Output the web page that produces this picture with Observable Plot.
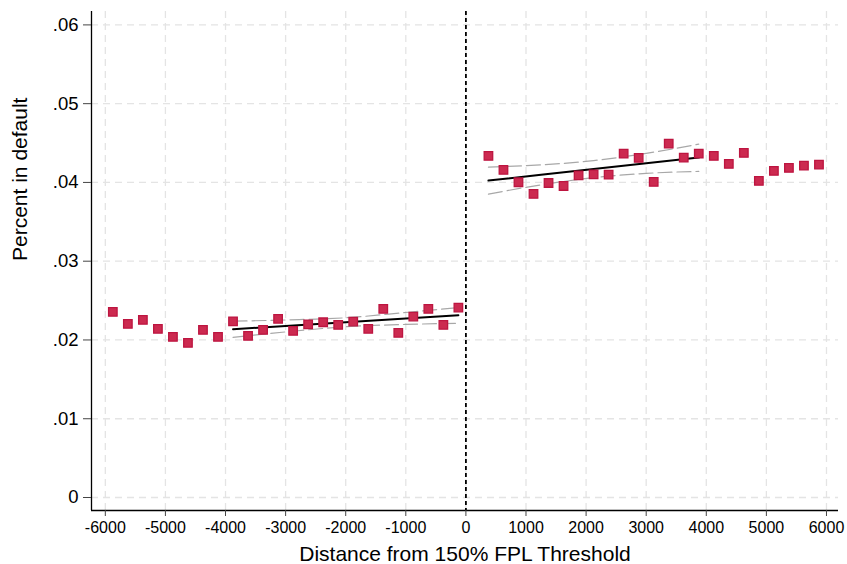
<!DOCTYPE html>
<html>
<head>
<meta charset="utf-8">
<script src="https://cdn.jsdelivr.net/npm/d3@7"></script>
<script src="https://cdn.jsdelivr.net/npm/@observablehq/plot@0.6"></script>
<style>
  body { margin: 0; background: #fff; }
  #chart { width: 847px; height: 564px; }
  svg { font-family: "Liberation Sans", Arial, sans-serif; }
</style>
</head>
<body>
<div id="chart"></div>
<script>
// Bin centers and binned default rates
const leftX = [-5875,-5625,-5375,-5125,-4875,-4625,-4375,-4125,-3875,-3625,-3375,-3125,-2875,-2625,-2375,-2125,-1875,-1625,-1375,-1125,-875,-625,-375,-125];
const leftY = [0.02357,0.02204,0.02255,0.02141,0.02039,0.01963,0.02128,0.02039,0.02237,0.02052,0.02128,0.02268,0.02115,0.02199,0.02225,0.02191,0.02234,0.02141,0.02395,0.02090,0.02297,0.02395,0.02191,0.02411];
const rightX = [375,625,875,1125,1375,1625,1875,2125,2375,2625,2875,3125,3375,3625,3875,4125,4375,4625,4875,5125,5375,5625,5875];
const rightY = [0.04336,0.04159,0.04002,0.03854,0.03993,0.03955,0.04090,0.04103,0.04099,0.04365,0.04311,0.04006,0.04492,0.04315,0.04365,0.04336,0.04235,0.04374,0.04019,0.04146,0.04184,0.04213,0.04226];

// Linear fits with confidence bands
const leftFitX = [-3875,-3000,-2000,-1000,-125];
const leftFit  = [0.02136,0.02178,0.02225,0.02273,0.02314];
const leftHi   = [0.02238,0.02254,0.02282,0.02349,0.02412];
const leftLo   = [0.02034,0.02102,0.02168,0.02197,0.02212];
const rightFitX = [375,1250,2125,3000,3875];
const rightFit  = [0.04023,0.04096,0.04169,0.04242,0.04315];
const rightHi   = [0.04194,0.04223,0.04277,0.04369,0.04486];
const rightLo   = [0.03852,0.03969,0.04061,0.04115,0.04140];

const xTicks = [-6000,-5000,-4000,-3000,-2000,-1000,0,1000,2000,3000,4000,5000,6000];
const yTicks = [0,0.01,0.02,0.03,0.04,0.05,0.06];
const xDomain = [-6230, 6200];
const yDomain = [-0.00165, 0.0617];
const xTitle = "Distance from 150% FPL Threshold";
const yTitle = "Percent in default";

const pts = [
  ...leftX.map((x,i)=>({x, y:leftY[i]})),
  ...rightX.map((x,i)=>({x, y:rightY[i]}))
];
const band = (xs, ys, side, g) => xs.map((x,i)=>({x, y:ys[i], g: g+side}));
const fits = [...band(leftFitX,leftFit,"fit","L"), ...band(rightFitX,rightFit,"fit","R")];
const cis = [
  ...band(leftFitX,leftHi,"hi","L"), ...band(leftFitX,leftLo,"lo","L"),
  ...band(rightFitX,rightHi,"hi","R"), ...band(rightFitX,rightLo,"lo","R")
];

const yFmt = d => d === 0 ? "0" : d3.format(".2f")(d).replace(/^0/, "");
const xFmt = d => String(d);

const chart = Plot.plot({
  width: 847,
  height: 564,
  marginLeft: 91,
  marginRight: 9,
  marginTop: 11,
  marginBottom: 54,
  style: { fontFamily: "Liberation Sans, Arial, sans-serif", background: "#fff", overflow: "visible" },
  x: { domain: xDomain },
  y: { domain: yDomain },
  marks: [
    Plot.gridX(xTicks, { stroke: "#e4e4e4", strokeOpacity: 1, strokeWidth: 1.3, strokeDasharray: "7,5" }),
    Plot.gridY(yTicks, { stroke: "#e4e4e4", strokeOpacity: 1, strokeWidth: 1.3, strokeDasharray: "7,5" }),
    Plot.ruleX([0], { stroke: "#000", strokeWidth: 1.8, strokeDasharray: "4,3" }),
    Plot.line(cis, { x: "x", y: "y", z: "g", stroke: "#a8a8a8", strokeWidth: 1.2, strokeDasharray: "14,5", curve: "monotone-x" }),
    Plot.line(fits, { x: "x", y: "y", z: "g", stroke: "#000", strokeWidth: 2 }),
    Plot.dot(pts, { x: "x", y: "y", symbol: "square", r: 4.8, fill: "#cc2a50", stroke: "#bd1540", strokeWidth: 1.3 }),
    Plot.ruleX([xDomain[0]], { stroke: "#000", strokeWidth: 1.3 }),
    Plot.ruleY([yDomain[0]], { stroke: "#000", strokeWidth: 1.3 }),
    Plot.axisX(xTicks, { tickSize: 6, tickPadding: 5, fontSize: 16, stroke: "#444", fill: "#000", tickFormat: xFmt, label: null }),
    Plot.axisY(yTicks, { tickSize: 8, tickPadding: 5, fontSize: 18.5, stroke: "#444", fill: "#000", tickFormat: yFmt, label: null }),
    Plot.text([xTitle], { frameAnchor: "bottom", dy: 50, fontSize: 21, fill: "#000", text: d => d }),
    Plot.text([yTitle], { frameAnchor: "left", dx: -71, rotate: -90, fontSize: 21, fill: "#000", text: d => d })
  ]
});
document.getElementById("chart").appendChild(chart);
</script>
</body>
</html>
